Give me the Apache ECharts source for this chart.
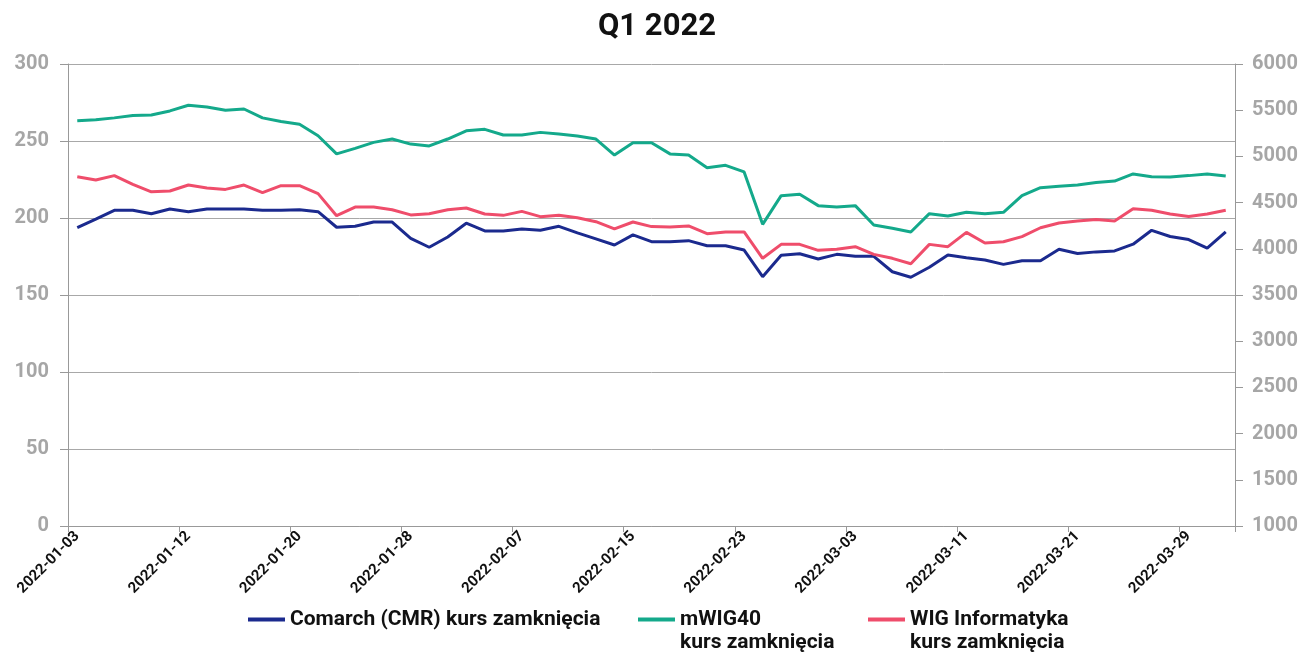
<!DOCTYPE html>
<html>
<head>
<meta charset="utf-8">
<title>Q1 2022</title>
<script src="https://cdn.jsdelivr.net/npm/echarts@6/dist/echarts.min.js"></script>
<style>
  html, body { margin: 0; padding: 0; background: #ffffff; }
  #chart { width: 1305px; height: 652px; }
</style>
</head>
<body>
<div id="chart"></div>
<script>
// dni sesyjne Q1 2022
var dates = [
  '2022-01-03','2022-01-04','2022-01-05','2022-01-07','2022-01-10','2022-01-11','2022-01-12','2022-01-13','2022-01-14',
  '2022-01-17','2022-01-18','2022-01-19','2022-01-20','2022-01-21','2022-01-24','2022-01-25','2022-01-26','2022-01-27',
  '2022-01-28','2022-01-31','2022-02-01','2022-02-02','2022-02-03','2022-02-04','2022-02-07','2022-02-08','2022-02-09',
  '2022-02-10','2022-02-11','2022-02-14','2022-02-15','2022-02-16','2022-02-17','2022-02-18','2022-02-21','2022-02-22',
  '2022-02-23','2022-02-24','2022-02-25','2022-02-28','2022-03-01','2022-03-02','2022-03-03','2022-03-04','2022-03-07',
  '2022-03-08','2022-03-09','2022-03-10','2022-03-11','2022-03-14','2022-03-15','2022-03-16','2022-03-17','2022-03-18',
  '2022-03-21','2022-03-22','2022-03-23','2022-03-24','2022-03-25','2022-03-28','2022-03-29','2022-03-30','2022-03-31'
];

// Comarch (lewa oś)
var comarch = [
  193.7, 199.3, 205, 205, 202.8, 205.8, 204.1, 205.8, 205.8, 205.8, 205, 205, 205.4, 204.1, 194, 194.6, 197.4, 197.4,
  186.8, 181, 187.7, 196.6, 191.6, 191.6, 192.9, 192, 194.6, 190.3, 186.4, 182.5, 189, 184.6, 184.6, 185.3, 182, 182,
  179.2, 161.9, 175.8, 176.8, 173.4, 176.4, 175.1, 175.1, 165.1, 161.5, 168, 176, 174.2, 172.7, 169.9, 172.3, 172.3,
  179.7, 177, 178, 178.6, 183, 192, 188, 186, 180.5, 191
];

// mWIG40 (prawa oś)
var mwig40 = [
  5387, 5397, 5417, 5442, 5448, 5492, 5553, 5535, 5500, 5513, 5417, 5377, 5347, 5223, 5027, 5087, 5152, 5188,
  5133, 5113, 5188, 5277, 5293, 5232, 5232, 5260, 5242, 5220, 5188, 5015, 5148, 5148, 5027, 5015, 4878, 4903,
  4832, 4265, 4575, 4590, 4467, 4452, 4467, 4258, 4222, 4182, 4380, 4355, 4395, 4380, 4395, 4575, 4662,
  4677, 4690, 4717, 4733, 4810, 4780, 4777, 4792, 4810, 4788
];

// WIG Informatyka (prawa oś)
var wigInfo = [
  4780, 4745, 4792, 4697, 4617, 4625, 4690, 4658, 4643, 4690, 4607, 4683, 4683, 4597, 4358, 4452, 4452, 4423,
  4367, 4380, 4423, 4442, 4377, 4362, 4405, 4348, 4362, 4337, 4293, 4215, 4290, 4240, 4237, 4247, 4163, 4182,
  4182, 3897, 4048, 4048, 3983, 3995, 4023, 3940, 3897, 3838, 4048, 4023, 4178, 4063, 4077, 4132, 4228,
  4280, 4300, 4317, 4300, 4433, 4417, 4377, 4350, 4377, 4417
];

var names = ['Comarch (CMR) kurs zamknięcia', 'mWIG40\nkurs zamknięcia', 'WIG Informatyka\nkurs zamknięcia'];
var colors = ['#1b2a8e', '#14a98b', '#ef4d6b'];

var chart = echarts.init(document.getElementById('chart'));

var legendBase = {
  orient: 'horizontal',
  icon: 'rect',
  itemWidth: 37,
  itemHeight: 4,
  itemGap: 3,
  padding: 0,
  // pusta linia na górze, żeby ikonka wypadała przy pierwszej linii tekstu
  formatter: function (name) {
    return name.indexOf('\n') >= 0 ? ' \n' + name : name;
  },
  textStyle: { fontFamily: 'Roboto', fontWeight: 'bold', fontSize: 21, color: '#111111', lineHeight: 23 }
};

var axisLabelStyle = { fontFamily: 'Roboto', fontWeight: 'bold', fontSize: 20, color: '#a6a6a6' };

chart.setOption({
  backgroundColor: '#ffffff',
  color: colors,
  animation: false,
  title: {
    text: 'Q1 2022',
    left: 598,
    top: 12,
    padding: 0,
    textStyle: { fontFamily: 'Roboto', fontWeight: 'bold', fontSize: 31, color: '#111111' }
  },
  legend: [
    Object.assign({}, legendBase, { left: 248, top: 608, data: [names[0]] }),
    Object.assign({}, legendBase, { left: 638, top: 585, data: [names[1]] }),
    Object.assign({}, legendBase, { left: 868, top: 585, data: [names[2]] })
  ],
  grid: { left: 68, right: 70, top: 64, bottom: 126, containLabel: false },
  xAxis: {
    type: 'category',
    data: dates,
    boundaryGap: true,
    axisLine: { lineStyle: { color: '#999999', width: 1 } },
    axisTick: { show: true, interval: 5, length: 6, lineStyle: { color: '#999999' } },
    axisLabel: {
      interval: 5,
      rotate: 45,
      margin: 8,
      fontFamily: 'Roboto',
      fontWeight: 'bold',
      fontSize: 15,
      color: '#111111'
    },
    splitLine: { show: false }
  },
  yAxis: [{
    type: 'value',
    min: 0,
    max: 300,
    interval: 50,
    axisLine: { show: true, lineStyle: { color: '#999999' } },
    axisTick: { show: true, length: 8, lineStyle: { color: '#999999' } },
    axisLabel: Object.assign({ margin: 19 }, axisLabelStyle),
    splitLine: { show: true, lineStyle: { color: '#a8a8a8', width: 1 } }
  }, {
    type: 'value',
    min: 1000,
    max: 6000,
    interval: 500,
    position: 'right',
    axisLine: { show: true, lineStyle: { color: '#999999' } },
    axisTick: { show: true, length: 8, lineStyle: { color: '#999999' } },
    axisLabel: Object.assign({ margin: 17, formatter: function (v) { return String(v); } }, axisLabelStyle),
    splitLine: { show: false }
  }],
  series: [{
    name: names[0],
    type: 'line',
    yAxisIndex: 0,
    data: comarch,
    symbol: 'none',
    lineStyle: { width: 3 }
  }, {
    name: names[1],
    type: 'line',
    yAxisIndex: 1,
    data: mwig40,
    symbol: 'none',
    lineStyle: { width: 3 }
  }, {
    name: names[2],
    type: 'line',
    yAxisIndex: 1,
    data: wigInfo,
    symbol: 'none',
    lineStyle: { width: 3 }
  }]
});
</script>
</body>
</html>
